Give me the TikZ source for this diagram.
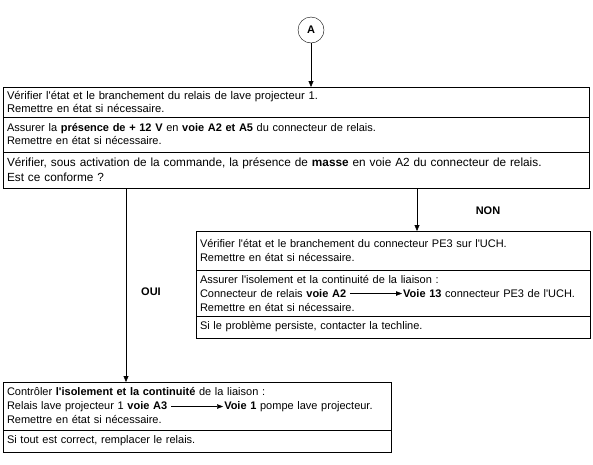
\documentclass[tikz,border=0pt]{standalone}
\usepackage{fontspec}
\setmainfont{Liberation Sans}
\usetikzlibrary{positioning, arrows.meta}

% inline link arrow used inside the texts
\newcommand{\linkarrow}{\tikz[baseline=-0.6ex]\draw[-{Triangle[width=4.5pt,length=6pt]}] (0,0) -- (52pt,0);\hspace{1pt}}
\newcommand{\ap}{\textquotesingle}

\begin{document}
\begin{tikzpicture}[x=1pt, y=-1pt,
    row/.style={draw, thin, anchor=north west, outer sep=0pt, inner xsep=4pt, inner ysep=0pt, align=left,
        font=\fontsize{11.2}{13}\selectfont},
    wide/.style={row, text width=578pt},
    half/.style={row, text width=380pt, font=\fontsize{11}{14}\selectfont},
    small/.style={row, text width=386pt, font=\fontsize{11}{14}\selectfont},
    conn/.style={circle, draw, thin, minimum size=26pt, inner sep=0pt, font=\bfseries\fontsize{11}{12}\selectfont},
    flow/.style={-{Triangle[width=5pt,length=6pt]}, thin},
    answer/.style={font=\bfseries\fontsize{11}{12}\selectfont}
]
\useasboundingbox (0,0) rectangle (593,464);

% Connector A
\node[conn] (A) at (311,30) {A};

% First block
\node[wide, minimum height=30pt] (r1) at (3,87) {V\'erifier l\ap \'etat et le branchement du relais de lave projecteur 1.\\Remettre en \'etat si n\'ecessaire.};
\node[wide, minimum height=35pt, below=0pt of r1, font=\fontsize{11}{13}\selectfont] (r2) {Assurer la \textbf{pr\'esence de + 12 V} en \textbf{voie A2 et A5} du connecteur de relais.\\Remettre en \'etat si n\'ecessaire.};
\node[wide, minimum height=36pt, below=0pt of r2, font=\fontsize{11.8}{15}\selectfont] (r3) {V\'erifier, sous activation de la commande, la pr\'esence de \textbf{masse} en voie A2 du connecteur de relais.\\Est ce conforme ?};

% NON block
\node[small, minimum height=39pt] (n1) at (196,231) {V\'erifier l\ap \'etat et le branchement du connecteur PE3 sur l\ap UCH.\\Remettre en \'etat si n\'ecessaire.};
\node[small, minimum height=46pt, below=0pt of n1] (n2) {Assurer l\ap isolement et la continuit\'e de la liaison :\\Connecteur de relais \textbf{voie A2} \linkarrow\textbf{Voie 13} connecteur PE3 de l\ap UCH.\\Remettre en \'etat si n\'ecessaire.};
\node[small, minimum height=22pt, below=0pt of n2] (n3) {Si le probl\`eme persiste, contacter la techline.};

% OUI block
\node[half, minimum height=48pt] (o1) at (3,382) {Contr\^oler \textbf{l\ap isolement et la continuit\'e} de la liaison :\\Relais lave projecteur 1 \textbf{voie A3} \linkarrow\textbf{Voie 1} pompe lave projecteur.\\Remettre en \'etat si n\'ecessaire.};
\node[half, minimum height=22pt, below=0pt of o1] (o2) {Si tout est correct, remplacer le relais.};

% Connectors
\coordinate (ouiX) at (126,0);
\coordinate (nonX) at (417,0);
\draw[flow] (A) -- (A |- r1.north);
\draw[flow] (r3.south -| ouiX) -- (o1.north -| ouiX);
\draw[flow] (r3.south -| nonX) -- (n1.north -| nonX);

% Answers
\node[answer] (oui) at (151,292) {OUI};
\node[answer] (non) at (488,211) {NON};
\end{tikzpicture}
\end{document}
